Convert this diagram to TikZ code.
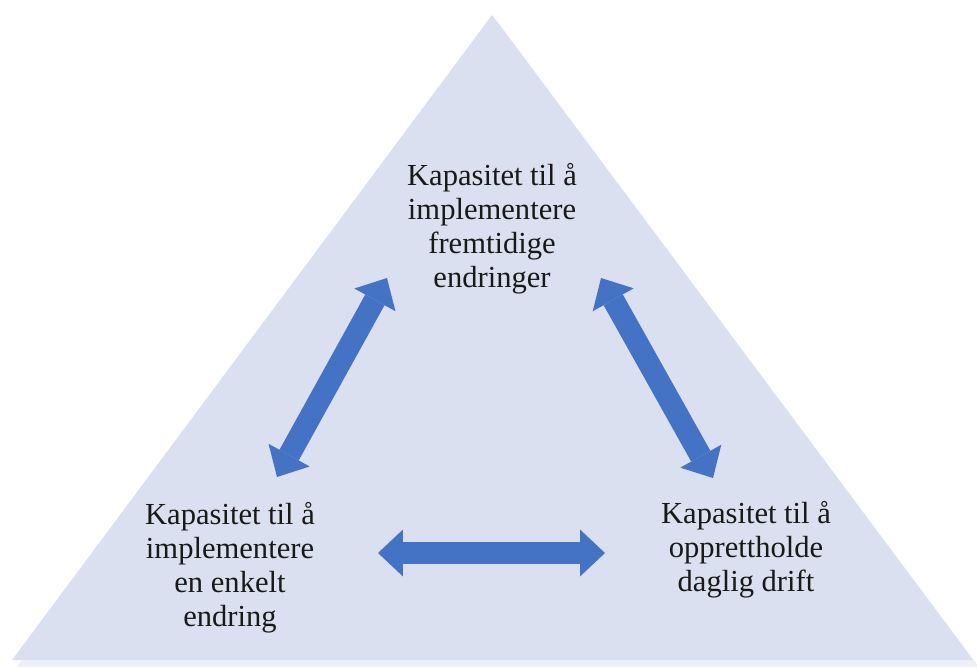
\documentclass[tikz,border=0pt]{standalone}
\usepackage{fontspec}
\setmainfont{Liberation Serif}
\usetikzlibrary{arrows.meta}

\definecolor{trifill}{HTML}{DAE0EF}
\definecolor{trishade}{HTML}{ECEFF9}
\definecolor{arrowblue}{HTML}{4472C4}

\begin{document}
\begin{tikzpicture}[
      x=0.02cm, y=-0.02cm,
      txt/.style={align=center, inner sep=0pt, text=black!90, font=\fontsize{17.4}{19.4}\selectfont},
      dblarrow/.style={draw=arrowblue, line width=0.44cm,
        {Triangle[width=0.94cm, length=0.5cm, line width=0pt]}-{Triangle[width=0.94cm, length=0.5cm, line width=0pt]}}
      ]
      \useasboundingbox (0,0) rectangle (977,668);

      % Triangle
      \fill[trishade] (497,21) -- (979,667) -- (17,667) -- cycle;
      \fill[trifill] (492,15) -- (973,660) -- (12,660) -- cycle;

      % Nodes
      \node[txt] (future) at (492,229) {Kapasitet til å\\implementere\\fremtidige\\endringer};
      \node[txt] (single) at (230,568) {Kapasitet til å\\implementere\\en enkelt\\endring};
      \node[txt] (daily) at (746,550) {Kapasitet til å\\opprettholde\\daglig drift};

      % Arrow ends
      \coordinate (lb) at (277,477);
      \coordinate (lt) at (387,278);
      \coordinate (rt) at (601,278);
      \coordinate (rb) at (713,478);
      \coordinate (hl) at (378,553);
      \coordinate (hr) at (605,553);

      % Arrows
      \draw[dblarrow] (lb) -- (lt);
      \draw[dblarrow] (rt) -- (rb);
      \draw[dblarrow] (hl) -- (hr);
    \end{tikzpicture}
\end{document}
